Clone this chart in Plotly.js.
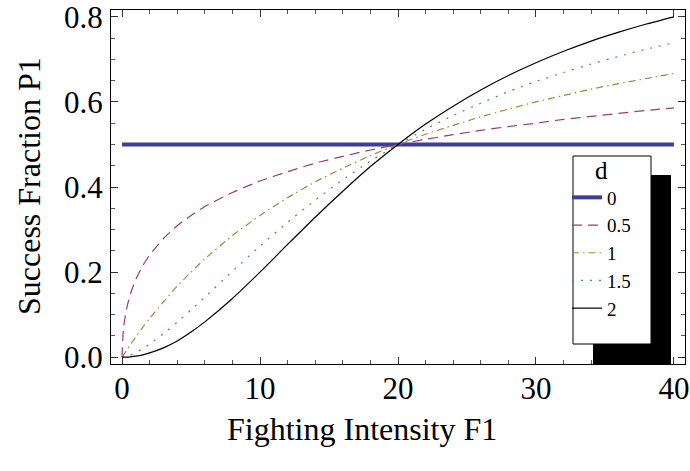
<!DOCTYPE html>
<html>
<head>
<meta charset="utf-8">
<script src="https://cdn.plot.ly/plotly-3.0.1.min.js"></script>
<style>
  html, body { margin: 0; padding: 0; background: #ffffff; }
  #chart { width: 690px; height: 471px; }
</style>
</head>
<body>
<div id="chart"></div>
<script>
// Fighting intensity F1 (x values, shared by all series)
const fightingIntensity = [0, 0.1, 0.3, 0.6, 1, 1.5, 2, 3, 4, 5, 6, 8, 10, 12, 14, 16, 18, 20, 22, 24, 26, 28, 30, 32, 34, 36, 38, 40];

// Success fraction P1 for each d
const p1_d0   = [0.5, 0.5, 0.5, 0.5, 0.5, 0.5, 0.5, 0.5, 0.5, 0.5, 0.5, 0.5, 0.5, 0.5, 0.5, 0.5, 0.5, 0.5, 0.5, 0.5, 0.5, 0.5, 0.5, 0.5, 0.5, 0.5, 0.5, 0.5];
const p1_d05  = [0, 0.066, 0.109, 0.148, 0.183, 0.215, 0.240, 0.279, 0.309, 0.333, 0.354, 0.387, 0.414, 0.436, 0.456, 0.472, 0.487, 0.500, 0.512, 0.523, 0.533, 0.542, 0.550, 0.559, 0.566, 0.573, 0.580, 0.586];
const p1_d1   = [0, 0.005, 0.015, 0.029, 0.048, 0.070, 0.091, 0.130, 0.167, 0.200, 0.231, 0.286, 0.333, 0.375, 0.412, 0.444, 0.474, 0.500, 0.524, 0.545, 0.565, 0.583, 0.600, 0.615, 0.630, 0.643, 0.655, 0.667];
const p1_d15  = [0, 0.0004, 0.002, 0.005, 0.011, 0.020, 0.031, 0.055, 0.082, 0.111, 0.141, 0.202, 0.261, 0.317, 0.369, 0.417, 0.461, 0.500, 0.536, 0.568, 0.597, 0.624, 0.648, 0.669, 0.689, 0.707, 0.724, 0.739];
const p1_d2   = [0, 0, 0.0002, 0.0009, 0.0025, 0.0056, 0.010, 0.022, 0.038, 0.059, 0.083, 0.138, 0.200, 0.265, 0.329, 0.390, 0.448, 0.500, 0.548, 0.590, 0.628, 0.662, 0.692, 0.719, 0.743, 0.764, 0.783, 0.800];

// Legend names
const dLabels = ["0", "0.5", "1", "1.5", "2"];

// Tick labels
const xTickVals = [0, 10, 20, 30, 40];
const xTickText = ["0", "10", "20", "30", "40"];
const yTickVals = [0, 0.2, 0.4, 0.6, 0.8];
const yTickText = ["0.0", "0.2", "0.4", "0.6", "0.8"];

const serif = "Liberation Serif";

const seriesValues = [p1_d0, p1_d05, p1_d1, p1_d15, p1_d2];
const styles = [
  {color: "rgb(61,61,153)",  width: 4,   dash: "solid"},
  {color: "rgb(153,61,113)", width: 1.2, dash: "10px,6px"},
  {color: "rgb(153,139,61)", width: 1.2, dash: "7px,4px,1.5px,4px"},
  {color: "rgb(61,153,86)",  width: 1.2, dash: "2px,7px"},
  {color: "rgb(0,0,0)",      width: 1.2, dash: "solid"}
];

const traces = seriesValues.map((vals, i) => ({
  type: "scatter",
  mode: "lines",
  x: fightingIntensity,
  y: vals,
  name: dLabels[i],
  line: {color: styles[i].color, width: styles[i].width, dash: styles[i].dash, shape: "spline", smoothing: 0.6},
  hoverinfo: "skip"
}));

const W = 690, H = 471;
const M = {l: 111, r: 5, t: 10, b: 107};
const pw = W - M.l - M.r, ph = H - M.t - M.b;
const px = v => (v - M.l) / pw;        // pixel x -> paper
const py = v => (H - M.b - v) / ph;     // pixel y -> paper

const layout = {
  width: W, height: H,
  margin: M,
  paper_bgcolor: "#ffffff",
  plot_bgcolor: "#ffffff",
  font: {family: serif, color: "#000000"},
  showlegend: true,
  legend: {
    x: px(567), y: py(146), xanchor: "left", yanchor: "top",
    bgcolor: "rgba(0,0,0,0)", borderwidth: 0,
    font: {family: serif, size: 19, color: "#000"},
    title: {text: "d", side: "top center", font: {family: serif, size: 25, color: "#000"}},
    itemwidth: 30, tracegroupgap: 0
  },
  xaxis: {
    range: [-0.8, 40.8],
    tickmode: "array", tickvals: xTickVals, ticktext: xTickText,
    ticks: "inside", ticklen: 7, tickwidth: 1, tickcolor: "#333",
    minor: {dtick: 2, tick0: 0, ticks: "inside", ticklen: 4, tickwidth: 1, tickcolor: "#555"},
    showline: true, linecolor: "#000", linewidth: 1, mirror: "ticks",
    showgrid: false, zeroline: false,
    tickfont: {family: serif, size: 31, color: "#000"},
    ticklabeloverflow: "allow",
    ticklabelstandoff: -3
  },
  yaxis: {
    range: [-0.016, 0.816],
    tickmode: "array", tickvals: yTickVals, ticktext: yTickText,
    ticks: "inside", ticklen: 7, tickwidth: 1, tickcolor: "#333",
    minor: {dtick: 0.05, tick0: 0, ticks: "inside", ticklen: 4, tickwidth: 1, tickcolor: "#555"},
    showline: true, linecolor: "#000", linewidth: 1, mirror: "ticks",
    showgrid: false, zeroline: false,
    tickfont: {family: serif, size: 31, color: "#000"},
    ticklabeloverflow: "allow",
    ticklabelstandoff: 1
  },
  annotations: [
    {text: "Fighting Intensity F1", xref: "paper", yref: "paper",
     x: px(362), y: py(429), xanchor: "center", yanchor: "middle", showarrow: false,
     font: {family: serif, size: 32, color: "#000"}},
    {text: "Success Fraction P1", xref: "paper", yref: "paper",
     x: px(29), y: py(186), xanchor: "center", yanchor: "middle", showarrow: false, textangle: -90,
     font: {family: serif, size: 32, color: "#000"}}
  ],
  shapes: [
    {type: "rect", xref: "paper", yref: "paper", layer: "above",
     x0: px(593), x1: px(671), y0: py(364), y1: py(175),
     fillcolor: "#000", line: {width: 0}},
    {type: "rect", xref: "paper", yref: "paper", layer: "above",
     x0: px(573), x1: px(651), y0: py(344), y1: py(156),
     fillcolor: "#fff", line: {color: "#000", width: 1}}
  ]
};

Plotly.newPlot("chart", traces, layout, {staticPlot: true, displayModeBar: false});
</script>
</body>
</html>
